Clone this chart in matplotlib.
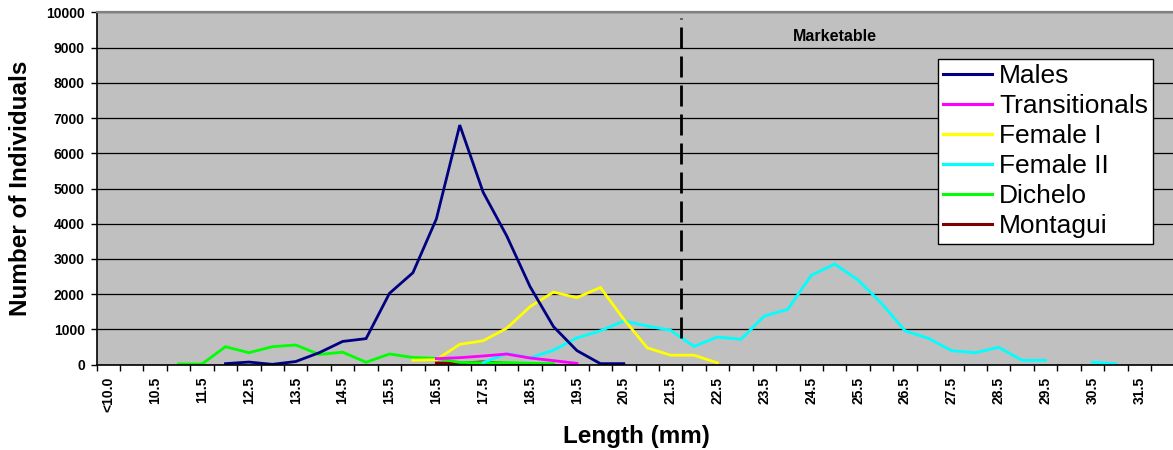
import numpy as np
import matplotlib
matplotlib.use("Agg")
from matplotlib import pyplot as plt
from matplotlib.ticker import FixedLocator

plt.rcParams['font.family'] = ['Liberation Sans', 'DejaVu Sans']

# length classes (mm), one per category on the x axis
categories = ['<10.0', '10.0', '10.5', '11.0', '11.5', '12.0', '12.5', '13.0', '13.5',
              '14.0', '14.5', '15.0', '15.5', '16.0', '16.5', '17.0', '17.5', '18.0',
              '18.5', '19.0', '19.5', '20.0', '20.5', '21.0', '21.5', '22.0', '22.5',
              '23.0', '23.5', '24.0', '24.5', '25.0', '25.5', '26.0', '26.5', '27.0',
              '27.5', '28.0', '28.5', '29.0', '29.5', '30.0', '30.5', '31.0', '31.5',
              '32.0']

# each series: first length class and the counts that follow (None = no value)
males_start = '12.0'
males = [30, 75, 10, 90, 340, 660, 740, 2025, 2610, 4135, 6800, 4890, 3660,
         2215, 1080, 400, 30, 30]

trans_start = '16.5'
transitionals = [172, 200, 247, 303, 190, 115, 38]

fem1_start = '16.0'
female1 = [130, 140, 578, 680, 1033, 1647, 2060, 1902, 2190, 1290, 480, 270,
           270, 50]

fem2_start = '17.5'
female2 = [60, 315, 195, 410, 760, 960, 1240, 1098, 975, 520, 785, 720, 1382,
           1572, 2536, 2857, 2403, 1742, 965, 749, 397, 340, 493, 125, 125,
           None, 68, 28]

dichelo_start = '11.0'
dichelo = [20, 20, 511, 340, 511, 559, 290, 355, 70, 304, 205, 180, 65, 55,
           60, 40, 30]

montagui_start = '16.5'
montagui = [50, 45, 80, 40, 20]

series = [
    ("Males", males_start, males, "#000080"),
    ("Transitionals", trans_start, transitionals, "#FF00FF"),
    ("Female I", fem1_start, female1, "#FFFF00"),
    ("Female II", fem2_start, female2, "#00FFFF"),
    ("Dichelo", dichelo_start, dichelo, "#00FF00"),
    ("Montagui", montagui_start, montagui, "#800000"),
]

# marketable size limit sits on the class boundary between 21.5 and 22.0
market_pos = categories.index('22.0') - 0.55
market_top, market_bottom = 9840, 624

fig = plt.figure(figsize=(11.73, 4.5), dpi=100)
ax = fig.add_axes([96.6 / 1173, 85.3 / 450, 1077.8 / 1173, 352.4 / 450])
ax.set_facecolor('#C0C0C0')

# draw order: last legend entry is drawn first (as in the original)
handles = {}
for name, start, vals, color in series[::-1]:
    x0 = categories.index(start)
    y = np.array([np.nan if v is None else v for v in vals], dtype=float)
    x = np.arange(x0, x0 + len(y))
    line, = ax.plot(x, y, color=color, lw=2.0, label=name, solid_joinstyle='miter')
    handles[name] = line

# marketable limit
vl, = ax.plot([market_pos, market_pos], [market_top, market_bottom], color='black',
              lw=2.0, dash_capstyle='butt')
vl.set_linestyle((7.2, (7.56, 2.88)))
ax.text(31.0, 9300, "Marketable", fontsize=11.5, fontweight='bold',
        ha='center', va='center')

ax.set_xlim(-0.5, len(categories) - 0.5)
ax.set_ylim(0, 10000)

# y axis
ax.set_yticks(np.arange(0, 10001, 1000))
ax.tick_params(axis='y', which='major', length=4, width=1, direction='out', pad=4.5,
               labelsize=10)
for lab in ax.get_yticklabels():
    lab.set_fontweight('bold')
ax.yaxis.grid(True, color='black', lw=0.9)
ax.set_axisbelow(True)

# x axis: labels on every other class, tick marks on class boundaries
label_pos = list(range(0, len(categories), 2))
ax.set_xticks(label_pos)
ax.set_xticklabels([categories[i] for i in label_pos], rotation=90,
                   fontsize=10, fontweight='bold')
ax.xaxis.set_minor_locator(FixedLocator(np.arange(-0.5, len(categories), 1.0)))
ax.tick_params(axis='x', which='major', length=0, pad=8.6)
ax.tick_params(axis='x', which='minor', length=4, width=1, direction='out')

ax.spines['left'].set_color('black')
ax.spines['bottom'].set_color('black')
ax.spines['left'].set_linewidth(1.2)
ax.spines['bottom'].set_linewidth(1.2)
ax.spines['top'].set_color('#808080')
ax.spines['top'].set_linewidth(1.6)
ax.spines['right'].set_color('#808080')

names = [s[0] for s in series]
leg = ax.legend([handles[n] for n in names], names, loc='upper left',
                bbox_to_anchor=(937.7 / 1173, 1 - 58.7 / 450),
                bbox_transform=fig.transFigure, borderaxespad=0,
                fontsize=19, handlelength=1.86, handletextpad=0.27,
                labelspacing=0.23, borderpad=0.2, fancybox=False,
                framealpha=1, edgecolor='black')
leg.get_frame().set_linewidth(1.0)
for l in leg.get_lines():
    l.set_linewidth(2.2)

fig.text(21 / 1173, 1 - 188.5 / 450, "Number of Individuals", rotation=90,
         fontsize=17.5, fontweight='bold', ha='center', va='center')
fig.text(636 / 1173, 1 - 436 / 450, "Length (mm)", fontsize=17.5,
         fontweight='bold', ha='center', va='center')

fig.savefig("out.png", dpi=100)
